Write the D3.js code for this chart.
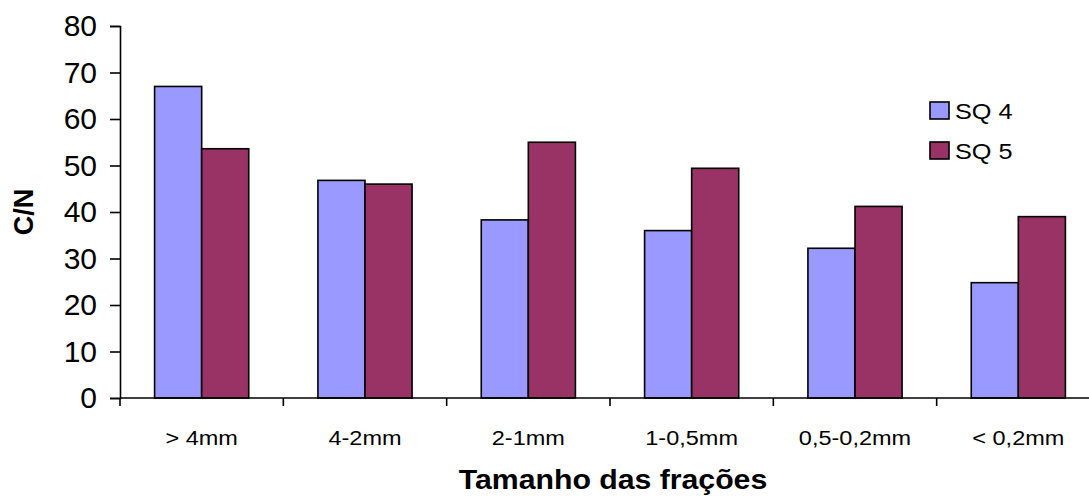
<!DOCTYPE html>
<html>
<head>
<meta charset="utf-8">
<script src="https://cdn.jsdelivr.net/npm/d3@7"></script>
<style>
  html, body { margin: 0; padding: 0; background: #fff; }
  svg { display: block; font-family: Arial, "Liberation Sans", sans-serif; }
</style>
</head>
<body>
<svg id="chart" width="1089" height="498"></svg>
<script>
// C/N ratio by aggregate size fraction
const categories = ["> 4mm", "4-2mm", "2-1mm", "1-0,5mm", "0,5-0,2mm", "< 0,2mm"];
const seriesNames = ["SQ 4", "SQ 5"];
const sq4 = [67.0, 46.8, 38.3, 36.0, 32.2, 24.8];
const sq5 = [53.6, 46.0, 55.0, 49.4, 41.2, 39.0];
const yTicks = [0, 10, 20, 30, 40, 50, 60, 70, 80];
const colors = ["#9999FF", "#993366"];

const svg = d3.select("#chart");
const plotLeft = 120, plotRight = 1100, plotTop = 26, plotBottom = 398;

const x = d3.scaleBand().domain(categories).range([plotLeft, plotRight]).paddingInner(0).paddingOuter(0);
const inner = d3.scaleBand().domain(seriesNames).range([0, x.bandwidth()]).paddingInner(0).paddingOuter(0.735);
const y = d3.scaleLinear().domain([0, 80]).range([plotBottom, plotTop]);

const rows = categories.map((c, i) => ({ cat: c, vals: [sq4[i], sq5[i]] }));

// bars
const groups = svg.append("g").selectAll("g").data(rows).join("g")
  .attr("transform", d => `translate(${x(d.cat)},0)`);
groups.selectAll("rect").data(d => d.vals.map((v, j) => ({ v, j })))
  .join("rect")
  .attr("x", d => inner(seriesNames[d.j]))
  .attr("y", d => y(d.v))
  .attr("width", inner.bandwidth())
  .attr("height", d => y(0) - y(d.v))
  .attr("fill", d => colors[d.j])
  .attr("stroke", "#000")
  .attr("stroke-width", 1.6);

// y axis
const yAxis = svg.append("g").attr("transform", `translate(${plotLeft},0)`)
  .call(d3.axisLeft(y).tickValues(yTicks).tickSize(10).tickPadding(13));
yAxis.select(".domain").attr("stroke", "#000").attr("stroke-width", 1.6);
yAxis.selectAll(".tick line").attr("stroke", "#000").attr("stroke-width", 1.6);
yAxis.selectAll(".tick text").attr("font-size", 30).attr("fill", "#000")
  .attr("font-family", "Arial, 'Liberation Sans', sans-serif");

// x axis: line plus ticks at category boundaries
const boundaries = categories.map(c => x(c)).concat([plotRight]);
const xg = svg.append("g");
xg.append("line").attr("x1", plotLeft).attr("x2", plotRight).attr("y1", plotBottom).attr("y2", plotBottom)
  .attr("stroke", "#000").attr("stroke-width", 1.6);
xg.selectAll("line.tk").data(boundaries).join("line").attr("class", "tk")
  .attr("x1", d => d).attr("x2", d => d).attr("y1", plotBottom).attr("y2", plotBottom + 8)
  .attr("stroke", "#000").attr("stroke-width", 1.6);
xg.selectAll("text").data(categories).join("text")
  .attr("transform", d => `translate(${x(d) + x.bandwidth() / 2},445) scale(1.12,1)`)
  .attr("text-anchor", "middle")
  .attr("font-size", 21)
  .attr("fill", "#000")
  .text(d => d);

// axis titles
svg.append("text")
  .attr("transform", "translate(613,489) scale(1.08,1)")
  .attr("text-anchor", "middle")
  .attr("font-size", 28).attr("font-weight", "bold")
  .text("Tamanho das frações");
svg.append("text")
  .attr("transform", `translate(33,${(plotTop + plotBottom) / 2}) rotate(-90)`)
  .attr("text-anchor", "middle")
  .attr("font-size", 27).attr("font-weight", "bold")
  .text("C/N");

// legend
const legend = svg.append("g").attr("transform", "translate(930,102)");
const li = legend.selectAll("g").data(seriesNames).join("g")
  .attr("transform", (d, i) => `translate(0,${i * 40})`);
li.append("rect").attr("width", 19).attr("height", 17)
  .attr("fill", (d, i) => colors[i]).attr("stroke", "#000").attr("stroke-width", 1.6);
li.append("text")
  .attr("transform", "translate(25,17) scale(1.15,1)")
  .attr("font-size", 22).attr("fill", "#000")
  .text(d => d);
</script>
</body>
</html>
